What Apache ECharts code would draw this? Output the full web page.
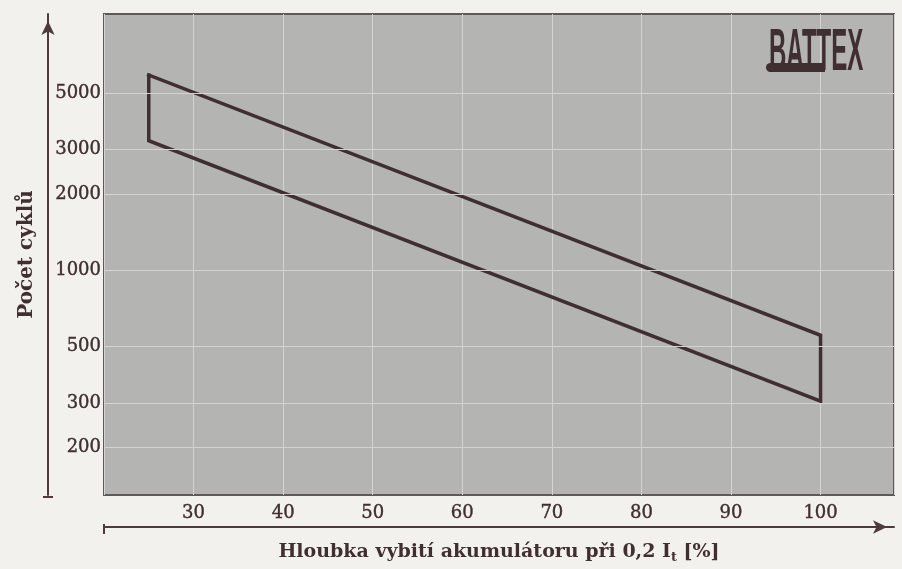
<!DOCTYPE html>
<html><head><meta charset="utf-8">
<script src="https://cdn.jsdelivr.net/npm/echarts@6/dist/echarts.min.js"></script>
<style>html,body{margin:0;padding:0;background:#f3f1ed;} #c{width:902px;height:569px;}</style>
</head><body><div id="c"></div>
<script>
// ---- data ----
const xTicks = [30, 40, 50, 60, 70, 80, 90, 100];
const yTicks = [200, 300, 500, 1000, 2000, 3000, 5000];
const dod = [25, 100, 100, 25, 25];          // depth of discharge [%]
const cycles = [5900, 555, 305, 3250, 5900]; // number of cycles
const xTitle = 'Hloubka vybití akumulátoru při 0,2 I{s|t} [%]';
const yTitle = 'Počet cyklů';
const logoText = 'BATTEX';

const ink = '#3f2f31';
const axisInk = '#4d3b3c';
const serif = '"DejaVu Serif", "Liberation Serif", serif';
const gridCol = '#d3d3d1';

const chart = echarts.init(document.getElementById('c'), null, {renderer: 'canvas'});
chart.setOption({
  animation: false,
  backgroundColor: '#f3f1ed',
  grid: {left: 104, right: 8, top: 14, bottom: 72, show: true,
         backgroundColor: '#b4b4b2', borderColor: '#5f5858', borderWidth: 2},
  xAxis: [{
    type: 'value', min: 20, max: 108.2, interval: 10,
    axisLine: {show: false}, axisTick: {show: false},
    splitLine: {show: true, lineStyle: {color: gridCol, width: 1}},
    axisLabel: {margin: 9, fontFamily: serif, fontSize: 18, color: ink, showMaxLabel: false,
      textBorderColor: ink, textBorderWidth: 0.4,
      formatter: v => xTicks.indexOf(v) >= 0 ? String(v) : ''}
  }, {
    type: 'value', min: 20, max: 108.2, position: 'bottom', offset: 32,
    axisLine: {show: true, symbol: ['none', 'arrow'], symbolSize: [10, 14], symbolOffset: [0, -7],
      lineStyle: {color: axisInk, width: 2}},
    axisTick: {show: false}, axisLabel: {show: false}, splitLine: {show: false},
    name: xTitle, nameLocation: 'middle', nameGap: 14,
    nameTextStyle: {fontFamily: serif, fontWeight: 'bold', fontSize: 19, color: ink,
      rich: {s: {fontFamily: serif, fontWeight: 'bold', fontSize: 13, color: ink, padding: [10, 0, 0, 0]}}}
  }],
  yAxis: [{
    type: 'log', logBase: 10, min: 130, max: 10280, offset: 56,
    axisLine: {show: true, symbol: ['none', 'arrow'], symbolSize: [10, 14], symbolOffset: [0, -7],
      lineStyle: {color: axisInk, width: 2}},
    axisTick: {show: false}, axisLabel: {show: false}, splitLine: {show: false},
    name: yTitle, nameLocation: 'middle', nameGap: 11, nameRotate: 90,
    nameTextStyle: {fontFamily: serif, fontWeight: 'bold', fontSize: 20, color: ink}
  }],
  series: [{
    type: 'line', data: [], z: 1, silent: true,
    markLine: {
      silent: true, symbol: ['none', 'none'], animation: false,
      lineStyle: {type: 'solid', color: gridCol, width: 1},
      label: {show: true, position: 'start', distance: 3, fontFamily: serif, fontSize: 18, color: ink,
        textBorderColor: ink, textBorderWidth: 0.4,
        formatter: p => String(p.value)},
      emphasis: {disabled: true},
      data: yTicks.map(v => ({yAxis: v}))
    }
  }, {
    type: 'line', z: 3, silent: true, showSymbol: false, symbol: 'none',
    data: dod.map((x, i) => [x, cycles[i]]),
    lineStyle: {color: ink, width: 3.5, join: 'miter', cap: 'square'}
  }],
  graphic: [
    {type: 'line', silent: true, shape: {x1: 43, y1: 497, x2: 53, y2: 497}, style: {stroke: axisInk, lineWidth: 2}},
    {type: 'line', silent: true, shape: {x1: 104, y1: 524, x2: 104, y2: 534}, style: {stroke: axisInk, lineWidth: 2}},
    {type: 'text', silent: true, x: 769, y: 23, scaleX: 0.4, z: 10,
      style: {text: logoText, x: 0, y: 0, font: 'bold 60px "Liberation Sans", Arial, sans-serif',
        fill: ink, verticalAlign: 'top', align: 'left'}},
    {type: 'rect', silent: true, z: 10, shape: {x: 766, y: 63, width: 59, height: 9, r: [4.5, 0, 0, 4.5]},
      style: {fill: ink}}
  ]
});
</script></body></html>
